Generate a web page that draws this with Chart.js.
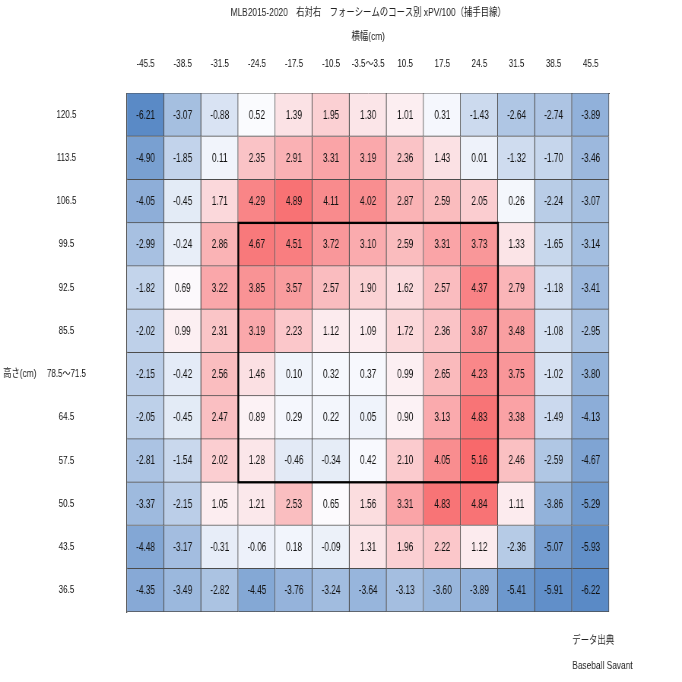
<!DOCTYPE html>
<html><head><meta charset="utf-8">
<script src="https://cdn.jsdelivr.net/npm/chart.js@4/dist/chart.umd.min.js"></script>
<style>html,body{margin:0;padding:0;background:#fff}canvas{display:block}</style>
</head><body>
<canvas id="c" width="682" height="682"></canvas>
<script>
// ---- data ----
const xLabels = ['-45.5','-38.5','-31.5','-24.5','-17.5','-10.5','-3.5～3.5','10.5','17.5','24.5','31.5','38.5','45.5'];
const yLabels = ['120.5','113.5','106.5','99.5','92.5','85.5','78.5～71.5','64.5','57.5','50.5','43.5','36.5'];

const row120_5 = [-6.21,-3.07,-0.88,0.52,1.39,1.95,1.30,1.01,0.31,-1.43,-2.64,-2.74,-3.89];
const row113_5 = [-4.90,-1.85,0.11,2.35,2.91,3.31,3.19,2.36,1.43,0.01,-1.32,-1.70,-3.46];
const row106_5 = [-4.05,-0.45,1.71,4.29,4.89,4.11,4.02,2.87,2.59,2.05,0.26,-2.24,-3.07];
const row99_5  = [-2.99,-0.24,2.86,4.67,4.51,3.72,3.10,2.59,3.31,3.73,1.33,-1.65,-3.14];
const row92_5  = [-1.82,0.69,3.22,3.85,3.57,2.57,1.90,1.62,2.57,4.37,2.79,-1.18,-3.41];
const row85_5  = [-2.02,0.99,2.31,3.19,2.23,1.12,1.09,1.72,2.36,3.87,3.48,-1.08,-2.95];
const row78_71 = [-2.15,-0.42,2.56,1.46,0.10,0.32,0.37,0.99,2.65,4.23,3.75,-1.02,-3.80];
const row64_5  = [-2.05,-0.45,2.47,0.89,0.29,0.22,0.05,0.90,3.13,4.83,3.38,-1.49,-4.13];
const row57_5  = [-2.81,-1.54,2.02,1.28,-0.46,-0.34,0.42,2.10,4.05,5.16,2.46,-2.59,-4.67];
const row50_5  = [-3.37,-2.15,1.05,1.21,2.53,0.65,1.56,3.31,4.83,4.84,1.11,-3.86,-5.29];
const row43_5  = [-4.48,-3.17,-0.31,-0.06,0.18,-0.09,1.31,1.96,2.22,1.12,-2.36,-5.07,-5.93];
const row36_5  = [-4.35,-3.49,-2.82,-4.45,-3.76,-3.24,-3.64,-3.13,-3.60,-3.89,-5.41,-5.91,-6.22];

const rows = [row120_5,row113_5,row106_5,row99_5,row92_5,row85_5,row78_71,row64_5,row57_5,row50_5,row43_5,row36_5];

// strike zone (column / row index ranges)
const zoneCols = [3, 9];
const zoneRows = [3, 8];

const titleText = 'MLB2015-2020　右対右　フォーシームのコース別 xPV/100（捕手目線）';
const xTitle = '横幅(cm)';
const yTitle = '高さ(cm)';
const sourceLines = ['データ出典', 'Baseball Savant'];

// ---- colour scale (min / 50th percentile / max) ----
const all = rows.flat();
const vMin = Math.min(...all), vMax = Math.max(...all);
const sorted = [...all].sort((a,b)=>a-b);
const pos = (sorted.length - 1) * 0.5;
const vMid = sorted[Math.floor(pos)] + (sorted[Math.ceil(pos)] - sorted[Math.floor(pos)]) * (pos - Math.floor(pos));
const cLow = [90,138,198], cMid = [252,252,255], cHigh = [248,105,107];
function mix(a,b,t){return a.map((v,i)=>Math.round(v+(b[i]-v)*t));}
function colorFor(v){
  let c;
  if (v <= vMid) c = mix(cMid, cLow, (vMid - v) / (vMid - vMin));
  else c = mix(cMid, cHigh, (v - vMid) / (vMax - vMid));
  return `rgb(${c[0]},${c[1]},${c[2]})`;
}

// ---- horizontally condensed rendering (narrow text like the original) ----
const SX = 0.76;
const canvas = document.getElementById('c');
const W = Math.round(682 / SX);
canvas.width = W; canvas.height = 682;
canvas.style.width = '682px'; canvas.style.height = '682px';
const L = v => v / SX; // displayed x -> logical x

const FONT = "'Liberation Sans','Noto Sans CJK JP',sans-serif";
Chart.defaults.font.family = FONT;
Chart.defaults.font.size = 11;
Chart.defaults.color = '#222';

const nRows = rows.length;
const datasets = rows.map((vals, i) => ({
  label: yLabels[i],
  data: vals.map((v, j) => ({x: xLabels[j], y: [nRows - 1 - i, nRows - i], v})),
  backgroundColor: ctx => colorFor(ctx.raw.v),
  borderColor: '#4c4c4c',
  borderWidth: {top: 0, left: 0, right: 1.3, bottom: 1},
  borderSkipped: false,
  grouped: false,
  barPercentage: 1,
  categoryPercentage: 1,
  yAxisID: 'y'
}));

const cellText = {
  id: 'cellText',
  afterDatasetsDraw(chart) {
    const ctx = chart.ctx;
    ctx.save();
    ctx.font = `12px ${FONT}`;
    ctx.fillStyle = '#111';
    ctx.textAlign = 'center';
    ctx.textBaseline = 'middle';
    chart.data.datasets.forEach((ds, di) => {
      const meta = chart.getDatasetMeta(di);
      meta.data.forEach((el, j) => {
        const p = el.getProps(['x','y','base'], true);
        ctx.save();
        ctx.translate(p.x, (p.y + p.base) / 2 + 0.5);
        ctx.scale(0.91, 1);
        ctx.fillText(ds.data[j].v.toFixed(2), 0, 0);
        ctx.restore();
      });
    });
    ctx.restore();
  }
};

const zoneBox = {
  id: 'zoneBox',
  afterDatasetsDraw(chart) {
    const xs = chart.scales.x, ys = chart.scales.y;
    const w = (xs.right - xs.left) / xLabels.length;
    const left = xs.getPixelForValue(zoneCols[0]) - w / 2;
    const right = xs.getPixelForValue(zoneCols[1]) + w / 2;
    const top = ys.getPixelForValue(nRows - zoneRows[0]);
    const bottom = ys.getPixelForValue(nRows - 1 - zoneRows[1]);
    const ctx = chart.ctx;
    ctx.save();
    ctx.strokeStyle = '#000';
    ctx.lineWidth = 2.3;
    ctx.strokeRect(left, top, right - left, bottom - top);
    ctx.restore();
  }
};

const extraText = {
  id: 'extraText',
  afterDraw(chart) {
    const ctx = chart.ctx, ca = chart.chartArea;
    ctx.save();
    ctx.font = `11px ${FONT}`;
    ctx.fillStyle = '#222';
    ctx.textBaseline = 'middle';
    ctx.textAlign = 'left';
    const yl = chart.scales.yLab;
    ctx.fillText(yTitle, L(3), yl.getPixelForTick(6));
    ctx.fillText(sourceLines[0], ca.right - L(37), ca.bottom + 29);
    ctx.fillText(sourceLines[1], ca.right - L(37), ca.bottom + 54);
    ctx.restore();
  }
};

new Chart(canvas, {
  type: 'bar',
  data: { labels: xLabels, datasets },
  options: {
    responsive: false,
    animation: false,
    devicePixelRatio: 1,
    layout: { padding: { left: 0, right: W - L(609), top: 0, bottom: 70 } },
    plugins: {
      legend: { display: false },
      tooltip: { enabled: false },
      title: {
        display: true, text: titleText, fullSize: false,
        font: { size: 11, weight: 'normal' }, color: '#222',
        padding: { top: 6, bottom: 6 }
      }
    },
    scales: {
      x: {
        type: 'category', position: 'top', offset: true,
        grid: { display: false },
        border: { display: true, color: '#4c4c4c', width: 1 },
        ticks: { padding: 15, color: '#111', font: { size: 10.5 }, maxRotation: 0, minRotation: 0, autoSkip: false },
        title: { display: true, text: xTitle, color: '#222', font: { size: 11 }, padding: { top: 5, bottom: 0 } },
        afterFit(s) { s.height = 68; }
      },
      y: {
        type: 'linear', min: 0, max: nRows, display: false
      },
      yLab: {
        type: 'category', position: 'left', labels: yLabels, offset: true,
        grid: { display: false },
        border: { display: true, color: '#4c4c4c', width: 1.3 },
        ticks: { crossAlign: 'center', padding: 46, color: '#111', font: { size: 10.5 } },
        afterFit(s) { s.width = L(127); }
      }
    }
  },
  plugins: [cellText, zoneBox, extraText]
});
</script>
</body></html>
